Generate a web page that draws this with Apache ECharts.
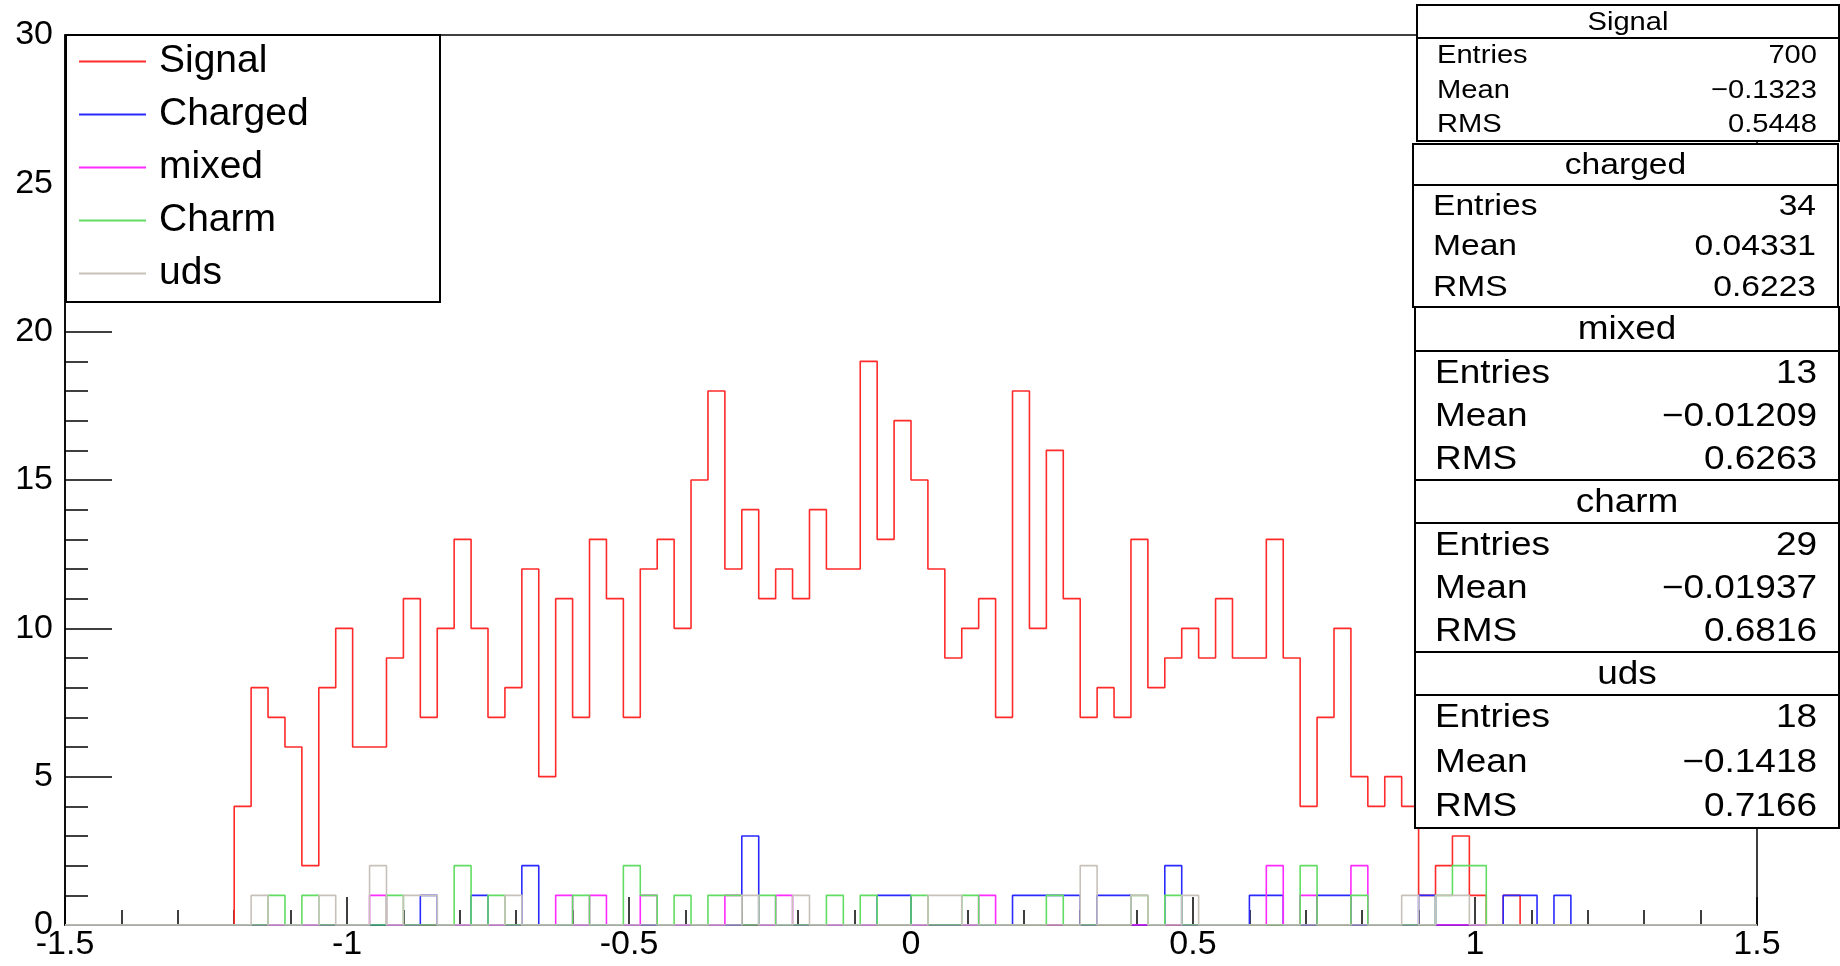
<!DOCTYPE html>
<html>
<head>
<meta charset="utf-8">
<script src="https://cdn.jsdelivr.net/npm/echarts@6/dist/echarts.min.js"></script>
<style>
  html, body { margin: 0; padding: 0; background: #fff; }
  #chart { width: 1840px; height: 966px; }
</style>
</head>
<body>
<div id="chart"></div>
<script>
// binning of all histograms: 100 bins from -1.5 to 1.5
const xMin = -1.5
const xMax = 1.5

// bin contents (bin 0 .. bin 99)
const signal = [
  0, 0, 0, 0, 0, 0, 0, 0, 0, 0, 4, 8, 7, 6, 2, 8, 10, 6, 6, 9, 11, 7, 10, 13, 10,
  7, 8, 12, 5, 11, 7, 13, 11, 7, 12, 13, 10, 15, 18, 12, 14, 11, 12, 11, 14, 12, 12, 19, 13, 17,
  15, 12, 9, 10, 11, 7, 18, 10, 16, 11, 7, 8, 7, 13, 8, 9, 10, 9, 11, 9, 9, 13, 9, 4, 7,
  10, 5, 4, 5, 4, 1, 2, 3, 1, 0, 1, 0, 0, 0, 0, 0, 0, 0, 0, 0, 0, 0, 0, 0, 0
]
const charged = [
  0, 0, 0, 0, 0, 0, 0, 0, 0, 0, 0, 0, 0, 0, 0, 0, 0, 0, 0, 0, 0, 1, 0, 0, 1,
  0, 0, 2, 0, 0, 0, 0, 0, 0, 0, 0, 0, 0, 0, 0, 3, 0, 0, 0, 0, 0, 0, 0, 1, 1,
  0, 0, 0, 0, 0, 0, 1, 1, 1, 1, 0, 1, 1, 0, 0, 2, 0, 0, 0, 0, 1, 1, 0, 0, 1,
  1, 0, 0, 0, 0, 1, 0, 0, 0, 0, 1, 1, 0, 1, 0, 0, 0, 0, 0, 0, 0, 0, 0, 0, 0
]
const mixed = [
  0, 0, 0, 0, 0, 0, 0, 0, 0, 0, 0, 0, 0, 0, 0, 0, 0, 0, 1, 0, 0, 0, 0, 0, 0,
  0, 0, 0, 0, 1, 0, 1, 0, 0, 1, 0, 0, 0, 0, 1, 0, 0, 1, 0, 0, 0, 0, 0, 0, 0,
  0, 0, 0, 0, 1, 0, 0, 0, 0, 0, 0, 0, 0, 0, 0, 0, 0, 0, 0, 0, 0, 2, 0, 1, 0,
  0, 2, 0, 0, 0, 0, 0, 0, 0, 0, 0, 0, 0, 0, 0, 0, 0, 0, 0, 0, 0, 0, 0, 0, 0
]
const charm = [
  0, 0, 0, 0, 0, 0, 0, 0, 0, 0, 0, 0, 1, 0, 1, 0, 0, 0, 0, 1, 0, 0, 0, 2, 0,
  1, 0, 0, 0, 0, 1, 0, 0, 2, 1, 0, 1, 0, 1, 1, 0, 1, 0, 0, 0, 1, 0, 1, 0, 0,
  1, 0, 0, 1, 0, 0, 0, 0, 1, 0, 0, 0, 0, 1, 0, 1, 0, 0, 0, 0, 0, 0, 0, 2, 0,
  0, 1, 0, 0, 0, 0, 1, 2, 2, 0, 0, 0, 0, 0, 0, 0, 0, 0, 0, 0, 0, 0, 0, 0, 0
]
const uds = [
  0, 0, 0, 0, 0, 0, 0, 0, 0, 0, 0, 1, 0, 0, 0, 1, 0, 0, 2, 0, 1, 1, 0, 0, 0,
  0, 1, 0, 0, 0, 0, 0, 0, 0, 0, 0, 0, 0, 0, 0, 1, 0, 0, 1, 0, 0, 0, 0, 0, 0,
  0, 1, 1, 0, 0, 0, 0, 0, 0, 0, 2, 0, 0, 1, 0, 0, 1, 0, 0, 0, 0, 0, 0, 0, 0,
  0, 0, 0, 0, 1, 0, 1, 1, 0, 0, 0, 0, 0, 0, 0, 0, 0, 0, 0, 0, 0, 0, 0, 0, 0
]

const legendNames = ['Signal', 'Charged', 'mixed', 'Charm', 'uds']
const lineColors = ['#ff2a2a', '#2a2aff', '#ff2aff', '#62dc62', '#c8c1b9']

// statistics boxes (top right)
const statTitles = ['Signal', 'charged', 'mixed', 'charm', 'uds']
const statEntries = ['700', '34', '13', '29', '18']
const statMeans = ['\u22120.1323', '0.04331', '\u22120.01209', '\u22120.01937', '\u22120.1418']
const statRms = ['0.5448', '0.6223', '0.6263', '0.6816', '0.7166']

const FONT = '"Liberation Sans", Arial, Helvetica, sans-serif'

// bin contents -> step line points at the bin edges
function toSteps(counts) {
  const w = (xMax - xMin) / counts.length
  const pts = counts.map((c, i) => [xMin + i * w, c])
  pts.push([xMax, counts[counts.length - 1]])
  return pts
}

// layout of the stat boxes: [left, top, right, bottom, titleBottom, fontSize]
const boxLayout = [
  [1417, 5, 1839, 141, 38, 26],
  [1413, 144, 1838, 307, 185, 30],
  [1415, 307, 1839, 480, 351, 33],
  [1415, 480, 1839, 652, 523, 33],
  [1415, 652, 1839, 828, 695, 33]
]
const stretch = 1.12

function statGraphics() {
  const els = []
  boxLayout.forEach((b, i) => {
    const [l, t, r, btm, tb, fs] = b
    els.push({
      type: 'rect', z: 100,
      shape: { x: l, y: t, width: r - l, height: btm - t },
      style: { fill: '#fff', stroke: '#000', lineWidth: 2 }
    })
    els.push({
      type: 'line', z: 101,
      shape: { x1: l, y1: tb, x2: r, y2: tb },
      style: { stroke: '#000', lineWidth: 2 }
    })
    const textStyle = (text, align) => ({
      text: text, fontSize: fs, fontFamily: FONT, fill: '#000',
      align: align, verticalAlign: 'middle', textAlign: align, textVerticalAlign: 'middle'
    })
    els.push({
      type: 'text', z: 102, x: (l + r) / 2, y: (t + tb) / 2 + 1, scaleX: stretch,
      style: textStyle(statTitles[i], 'center')
    })
    const rowH = (btm - tb) / 3
    const labels = ['Entries', 'Mean', 'RMS']
    const values = [statEntries[i], statMeans[i], statRms[i]]
    for (let k = 0; k < 3; k++) {
      const y = tb + rowH * (k + 0.5) + 1
      els.push({
        type: 'text', z: 102, x: l + 20, y: y, scaleX: stretch,
        style: textStyle(labels[k], 'left')
      })
      els.push({
        type: 'text', z: 102, x: r - 22, y: y, scaleX: stretch,
        style: textStyle(values[k], 'right')
      })
    }
  })
  return els
}

const chart = echarts.init(document.getElementById('chart'), null, { renderer: 'canvas' })

const series = [signal, charged, mixed, charm, uds].map((counts, i) => ({
  name: legendNames[i],
  type: 'line',
  step: 'end',
  symbol: 'none',
  data: toSteps(counts),
  lineStyle: { color: lineColors[i], width: 1.6 },
  itemStyle: { color: lineColors[i] },
  emphasis: { disabled: true },
  animation: false
}))

const option = {
  backgroundColor: '#fff',
  animation: false,
  grid: {
    left: 65, right: 83, top: 35, bottom: 41,
    outerBoundsMode: 'none',
    show: true, borderColor: '#000', borderWidth: 1.5, backgroundColor: 'transparent'
  },
  xAxis: {
    type: 'value', min: xMin, max: xMax, interval: 0.5,
    axisLine: { show: true, onZero: false, lineStyle: { color: '#000', width: 1.5 } },
    axisTick: { show: true, inside: true, length: 28, lineStyle: { color: '#000', width: 1.5 } },
    minorTick: { show: true, splitNumber: 5, length: 15, lineStyle: { color: '#000', width: 1.5 } },
    splitLine: { show: false },
    axisLabel: { color: '#000', fontSize: 34, fontFamily: FONT, margin: 3 }
  },
  yAxis: {
    type: 'value', min: 0, max: 30, interval: 5,
    axisLine: { show: true, onZero: false, lineStyle: { color: '#000', width: 1.5 } },
    axisTick: { show: true, inside: true, length: 47, lineStyle: { color: '#000', width: 1.5 } },
    minorTick: { show: true, splitNumber: 5, length: 23, lineStyle: { color: '#000', width: 1.5 } },
    splitLine: { show: false },
    axisLabel: { color: '#000', fontSize: 34, fontFamily: FONT, margin: 12 }
  },
  legend: {
    data: legendNames,
    orient: 'vertical',
    left: 66, top: 35,
    padding: [0, 0, 0, 12],
    itemWidth: 67, itemHeight: 14, itemGap: 0,
    selectedMode: false,
    itemStyle: { opacity: 0 },
    lineStyle: { width: 2 },
    textStyle: { fontSize: 39, lineHeight: 53, fontFamily: FONT, color: '#000', padding: [0, 0, 0, 8] }
  },
  graphic: [
    {
      type: 'rect', z: 3,
      shape: { x: 66, y: 35, width: 374, height: 267 },
      style: { fill: '#fff', stroke: '#000', lineWidth: 2 }
    }
  ].concat(statGraphics()),
  series: series
}

chart.setOption(option)
</script>
</body>
</html>
